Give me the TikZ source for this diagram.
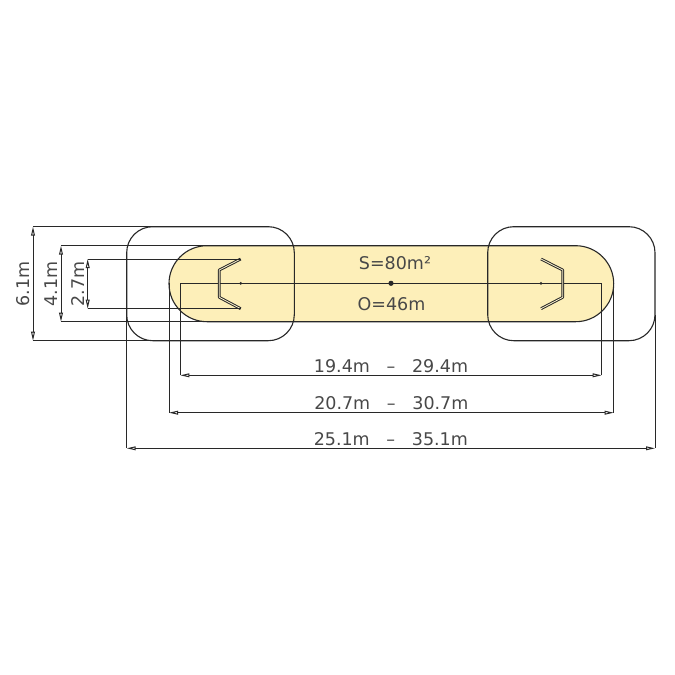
\documentclass[tikz,border=0pt]{standalone}
\usepackage{fontspec}
\setmainfont{DejaVu Sans}
\usetikzlibrary{arrows.meta}
\definecolor{padyellow}{RGB}{253,239,185}
\definecolor{inkline}{RGB}{40,40,40}
\tikzset{
	dimline/.style={{Triangle[open,length=9pt,width=3.8pt]}-{Triangle[open,length=9pt,width=3.8pt]},inkline,line width=1pt},
	extline/.style={inkline,line width=1pt},
	outline/.style={inkline,line width=1.1pt},
	dimtext/.style={inner sep=0pt,text=inkline!85!white,font=\fontsize{17.5}{20}\selectfont}
}
\begin{document}
\begin{tikzpicture}[x=1pt,y=-1pt]
	\useasboundingbox (0,0) rectangle (675,675);
	\fill[white] (0,0) rectangle (675,675);
	% yellow field
	\draw[outline,fill=padyellow,rounded corners=38pt] (169,245.7) rectangle (613.7,321.7);
	% two outer boxes
	\draw[outline,rounded corners=26pt] (126.7,226.7) rectangle (294.3,340.7);
	\draw[outline,rounded corners=26pt] (487.7,226.7) rectangle (655,340.7);
	% axis with end marks
	\draw[extline] (180.3,283.3)--(601.7,283.3);
	\fill[inkline] (391,283.3) circle (2.6pt);
	\foreach \x in {240.7,541}{
		\fill[inkline] (\x,283.3) circle (1.5pt);
	}
	% the two bent frames
	\foreach \a/\b in {240.7/219.3,541/562.7}{
		\draw[inkline,line width=2.8pt,line join=round] (\a,259)--(\b,270)--(\b,297.3)--(\a,308.7);
		\draw[padyellow!70!white,line width=0.8pt,line join=round] (\a,259)--(\b,270)--(\b,297.3)--(\a,308.7);
	}
	% dimensions on the left
	\foreach \x/\ya/\yb/\xe/\lab in {33/226.7/340.7/152/6.1m,61/245.7/321.7/207/4.1m,87.7/259/308.7/240.7/2.7m}{
		\draw[extline] (\x,\ya)--(\xe,\ya);
		\draw[extline] (\x,\yb)--(\xe,\yb);
		\draw[dimline] (\x,\ya)--(\x,\yb) node[midway,left=3pt,rotate=90,anchor=south,dimtext]{\lab};
	}
	% dimensions below
	\foreach \xa/\xb/\ys/\y/\lab in {180.3/601.7/283.3/375.3/{19.4m\ \ \ –\ \ \ 29.4m},169/613.7/283.3/412.7/{20.7m\ \ \ –\ \ \ 30.7m},126.7/655/315/448.3/{25.1m\ \ \ –\ \ \ 35.1m}}{
		\draw[extline] (\xa,\ys)--(\xa,\y);
		\draw[extline] (\xb,\ys)--(\xb,\y);
		\draw[dimline] (\xa,\y)--(\xb,\y) node[midway,above=2.5pt,dimtext]{\lab};
	}
	\node[dimtext] (area) at (395,263.5) {S=80m²};
	\node[dimtext] (perim) at (391.5,304.5) {O=46m};
\end{tikzpicture}
\end{document}
